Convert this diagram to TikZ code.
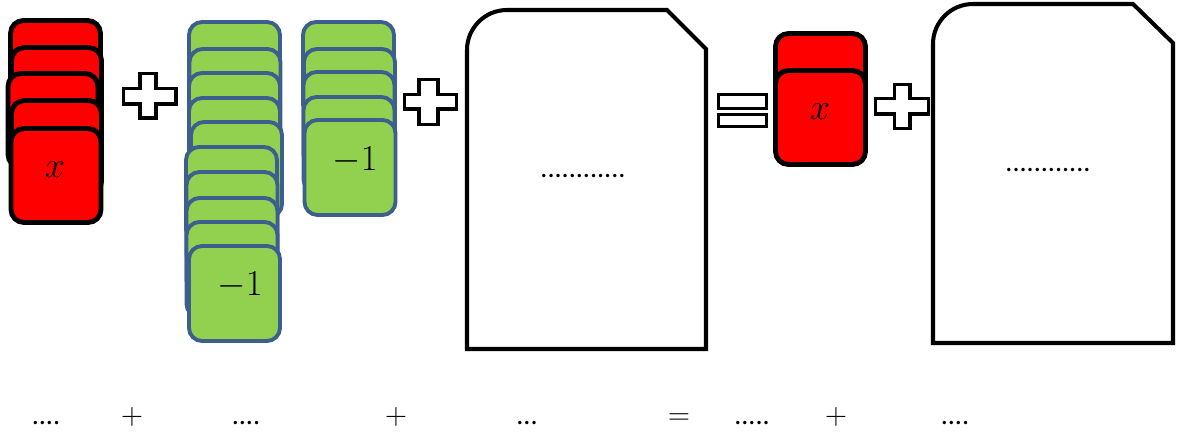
\documentclass[tikz,border=0pt]{standalone}
\usepackage{fontspec}
\usepackage{amsmath}
\newfontfamily\calib{Carlito}
\usetikzlibrary{positioning}

\definecolor{cardred}{HTML}{FF0000}
\definecolor{cardgreen}{HTML}{92D050}
\definecolor{cardedge}{HTML}{3D5F8E}

\begin{document}
\begin{tikzpicture}[
    x=0.02cm, y=-0.02cm,
    redcard/.style={
        rectangle, draw=black, fill=cardred, line width=2.8pt,
        rounded corners=0.26cm, minimum width=1.8cm, minimum height=1.88cm,
        inner sep=0pt
    },
    greencard/.style={
        rectangle, draw=cardedge, fill=cardgreen, line width=2.2pt,
        rounded corners=0.26cm, minimum width=1.82cm, minimum height=1.9cm,
        inner sep=0pt
    },
    cardtext/.style={font=\fontsize{21}{25}\selectfont, inner sep=0pt},
    docshape/.style={draw=black, fill=white, line width=2.3pt, line join=miter},
    opsign/.style={draw=black, fill=white, line width=1.8pt},
    dots/.style={font=\calib\fontsize{16}{19}\selectfont, inner sep=0pt},
    optext/.style={font=\fontsize{18}{21}\selectfont, inner sep=0pt, anchor=base}
]
\useasboundingbox (0,0) rectangle (1181,432);

% --- Left red stack (x tiles) ---
\foreach \i/\cx/\cy in {1/55.5/67.5, 2/56.5/94.5, 3/53/120.5, 4/56.5/147.5, 5/56/175.5}
    \node[redcard] (ra\i) at (\cx,\cy) {};
\node[cardtext] (xa) at (55,170) {$x$};

% --- Plus ---
\draw[opsign] (140,73.5) -- (156,73.5) -- (156,88.5) -- (176,88.5) -- (176,104)
    -- (156,104) -- (156,118) -- (140,118) -- (140,104) -- (123.5,104)
    -- (123.5,88.5) -- (140,88.5) -- cycle;

% --- First green stack (-1 tiles) ---
\foreach \i/\cx/\cy in {1/234.5/69.5, 2/235/96.5, 3/234.5/120.5, 4/234.5/145.5,
    5/236.5/169.5, 6/231.5/194.5, 7/232/219.5, 8/232/245.5, 9/232/269.5, 10/234.5/293.5}
    \node[greencard] (ga\i) at (\cx,\cy) {};
\node[cardtext] (ma) at (240,285) {$-1$};

% --- Second green stack ---
\foreach \i/\cx/\cy in {1/348.5/69.5, 2/349.5/96.5, 3/349/119.5, 4/349/144.5, 5/350/167.5}
    \node[greencard] (gb\i) at (\cx,\cy) {};
\node[cardtext] (mb) at (355,160) {$-1$};

% --- Plus ---
\draw[opsign] (419,79.5) -- (438,79.5) -- (438,94.5) -- (456.5,94.5) -- (456.5,109)
    -- (438,109) -- (438,124.5) -- (419,124.5) -- (419,109) -- (404.5,109)
    -- (404.5,94.5) -- (419,94.5) -- cycle;

% --- First blank document ---
\draw[docshape] (467,349) -- (467,50) arc[start angle=180, end angle=90, radius=0.8cm]
    -- (667,10) -- (706,49) -- (706,349) -- cycle;
\node[dots] (doca) at (583,176) {............};

% --- Equals ---
\draw[opsign] (718.5,94.5) rectangle (766.5,108.5);
\draw[opsign] (718.5,114.5) rectangle (766.5,126.5);

% --- Right red stack ---
\node[redcard] (rb1) at (820.5,80.5) {};
\node[redcard] (rb2) at (820.5,117.5) {};
\node[cardtext] (xb) at (820,112) {$x$};

% --- Plus ---
\draw[opsign] (894.5,84.5) -- (910,84.5) -- (910,98.5) -- (928.5,98.5) -- (928.5,114)
    -- (910,114) -- (910,128.5) -- (894.5,128.5) -- (894.5,114) -- (875.5,114)
    -- (875.5,98.5) -- (894.5,98.5) -- cycle;

% --- Second blank document ---
\draw[docshape] (933,343) -- (933,44) arc[start angle=180, end angle=90, radius=0.8cm]
    -- (1133,4) -- (1173,43) -- (1173,343) -- cycle;
\node[dots] (docb) at (1048,170) {............};

% --- Bottom row ---
\node[dots, anchor=base] (ba) at (46,425) {....};
\node[optext] (pa) at (132,425) {$+$};
\node[dots, anchor=base] (bb) at (246,425) {....};
\node[optext] (pb) at (396,425) {$+$};
\node[dots, anchor=base] (bc) at (527,425) {...};
\node[optext] (ea) at (679,425) {$=$};
\node[dots, anchor=base] (bd) at (752,425) {.....};
\node[optext] (pc) at (836,425) {$+$};
\node[dots, anchor=base] (be) at (955,425) {....};

\end{tikzpicture}
\end{document}
